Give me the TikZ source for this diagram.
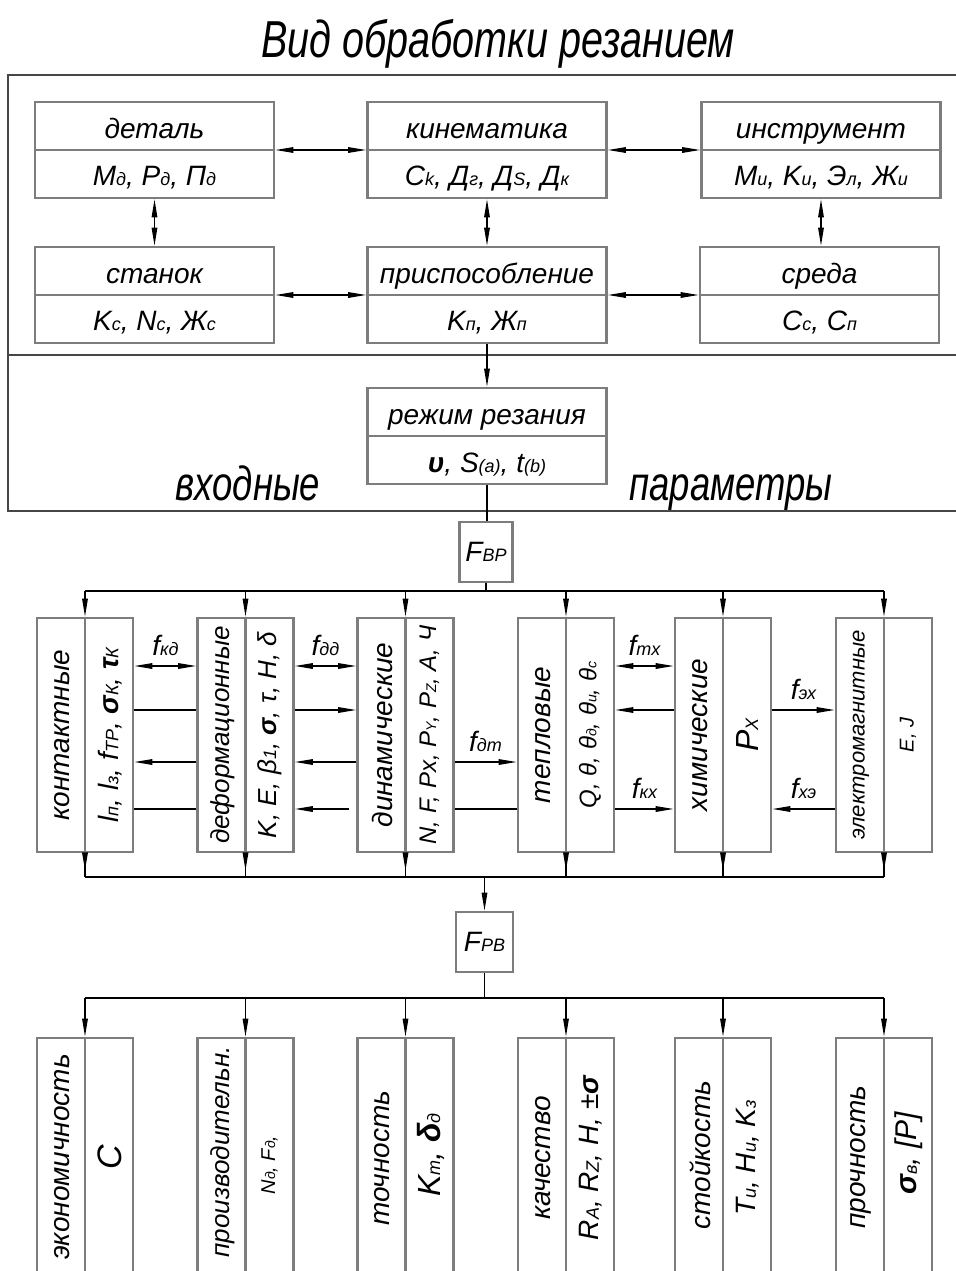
\documentclass[tikz,border=0pt]{standalone}
\usepackage{fontspec}
\setmainfont{Liberation Sans}
\newfontfamily\nar{Liberation Sans}[FakeStretch=0.76]
\usetikzlibrary{arrows.meta,calc}
\definecolor{boxgray}{RGB}{125,125,125}
\definecolor{framegray}{RGB}{70,70,70}
\newcommand\sbs[1]{{\fontsize{9pt}{9pt}\selectfont #1}}
\newcommand\ssbs[1]{{\fontsize{7pt}{7pt}\selectfont #1}}
\newcommand\fsz[1]{\fontsize{#1}{#1}\selectfont}
\begin{document}
\begin{tikzpicture}[x=0.5pt,y=-0.5pt,
  font=\fontsize{14pt}{16pt}\selectfont\itshape,
  tbox/.style={draw=boxgray,line width=1.4pt,minimum width=119.5pt,minimum height=48pt,inner sep=0pt},
  vbox/.style={draw=boxgray,line width=1.4pt,minimum width=48pt,minimum height=117pt,inner sep=0pt},
  fbox/.style={draw=boxgray,line width=1.4pt,minimum height=30pt,inner sep=0pt},
  divl/.style={draw=boxgray,line width=1.4pt},
  tip/.style={-{Triangle[length=9pt,width=2.8pt]}},
  dtip/.style={{Triangle[length=9pt,width=2.8pt]}-{Triangle[length=9pt,width=2.8pt]}},
  conn/.style={line width=0.6pt,black},
  frame/.style={draw=framegray,line width=0.9pt},
  lbl/.style={inner sep=0pt,anchor=base},
  rot/.style={rotate=90,inner sep=0pt},
  big/.style={lbl,font=\nar\fsz{24pt}\itshape},
]
\useasboundingbox (0,0) rectangle (956,1271);

% title and frame
\node[lbl,font=\nar\fsz{26pt}\itshape] (title) at (498,57) {Вид обработки резанием};
\draw[frame] (956,75) -- (8,75) -- (8,511) -- (956,511);
\draw[frame] (8,355) -- (956,355);
\node[big] (vx) at (248,500) {входные};
\node[big] (par) at (731,500) {параметры};

% top boxes
\node[tbox] (det) at (154.5,150) {};
\node[tbox] (kin) at (487,150) {};
\node[tbox] (ins) at (821,150) {};
\node[tbox] (stan) at (154.5,295) {};
\node[tbox] (pri) at (487,295) {};
\node[tbox] (sre) at (819.5,295) {};
\node[tbox] (rez) at (487,436) {};
\foreach \b in {det,kin,ins,stan,pri,sre,rez}{\draw[divl] (\b.west) -- (\b.east);}

\node[lbl] (detA) at (154.5,138) {деталь};
\node[lbl] (detB) at (154.5,185) {M\sbs{д}, P\sbs{д}, П\sbs{д}};
\node[lbl] (kinA) at (487,138) {кинематика};
\node[lbl] (kinB) at (487,185) {C\sbs{k}, Д\sbs{г}, Д\sbs{S}, Д\sbs{к}};
\node[lbl] (insA) at (821,138) {инструмент};
\node[lbl] (insB) at (821,185) {M\sbs{и}, K\sbs{и}, Э\sbs{л}, Ж\sbs{и}};
\node[lbl] (stanA) at (154.5,283) {станок};
\node[lbl] (stanB) at (154.5,330) {K\sbs{с}, N\sbs{с}, Ж\sbs{с}};
\node[lbl] (priA) at (487,283) {приспособление};
\node[lbl] (priB) at (487,330) {K\sbs{п}, Ж\sbs{п}};
\node[lbl] (sreA) at (819.5,283) {среда};
\node[lbl] (sreB) at (819.5,330) {C\sbs{с}, C\sbs{п}};
\node[lbl] (rezA) at (487,424) {режим резания};
\node[lbl] (rezB) at (487,472) {{\bfseries υ}, S\sbs{(a)}, t\sbs{(b)}};

\draw[conn,dtip] (det.east) -- (kin.west);
\draw[conn,dtip] (kin.east) -- (ins.west);
\draw[conn,dtip] (stan.east) -- (pri.west);
\draw[conn,dtip] (pri.east) -- (sre.west);
\draw[conn,dtip] (det.south) -- (stan.north);
\draw[conn,dtip] (kin.south) -- (pri.north);
\draw[conn,dtip] (ins.south) -- (ins.south |- sre.north);
\draw[conn,tip] (pri.south) -- (rez.north);

% F_BP
\node[fbox,minimum width=26.5pt] (fbp) at (486,552) {F\sbs{ВР}};
\draw[conn] (rez.south) -- (rez.south |- fbp.north);

% middle boxes
\node[vbox] (kont) at (85,735) {};
\node[vbox] (def) at (245.5,735) {};
\node[vbox] (din) at (405.5,735) {};
\node[vbox] (tep) at (566,735) {};
\node[vbox] (him) at (723,735) {};
\node[vbox] (elm) at (884,735) {};
\foreach \b in {kont,def,din,tep,him,elm}{\draw[divl] (\b.north) -- (\b.south);}

\node[rot] (kontA) at ($(kont.center)+(-23,0)$) {контактные};
\node[rot] (kontB) at ($(kont.center)+(25,0)$) {l\sbs{п}, l\sbs{з}, f\sbs{ТР}, {\bfseries σ}\sbs{К}, {\bfseries τ}\sbs{К}};
\node[rot,font=\fsz{13pt}\itshape] (defA) at ($(def.center)+(-23,0)$) {деформационные};
\node[rot,font=\fsz{13pt}\itshape] (defB) at ($(def.center)+(24,0)$) {K, E, β\sbs{1}, {\bfseries σ}, τ, H, δ};
\node[rot] (dinA) at ($(din.center)+(-23,0)$) {динамические};
\node[rot,font=\fsz{12pt}\itshape] (dinB) at ($(din.center)+(24,0)$) {N, F, Px, P\ssbs{Y}, P\ssbs{Z}, A, Ч};
\node[rot] (tepA) at ($(tep.center)+(-23,0)$) {тепловые};
\node[rot,font=\fsz{12pt}\itshape] (tepB) at ($(tep.center)+(24,0)$) {Q, θ, θ\ssbs{д}, θ\ssbs{и}, θ\ssbs{с}};
\node[rot] (himA) at ($(him.center)+(-23,0)$) {химические};
\node[rot,font=\fsz{16pt}\itshape] (himB) at ($(him.center)+(24,0)$) {P\sbs{X}};
\node[rot,font=\fsz{11pt}\itshape] (elmA) at ($(elm.center)+(-23,0)$) {электромагнитные};
\node[rot,font=\fsz{10pt}\itshape] (elmB) at ($(elm.center)+(24,0)$) {E, J};

% top bus
\coordinate (b1) at (486,591);
\draw[conn] (fbp.south) -- (b1);
\draw[conn] (kont.north |- b1) -- (elm.north |- b1);
\foreach \b in {kont,def,din,tep,him,elm}{\draw[conn,tip] (\b.north |- b1) -- (\b.north);}

% horizontal links
\coordinate (r1) at (0,666);
\coordinate (r2) at (0,710);
\coordinate (r3) at (0,762);
\coordinate (r4) at (0,809);
\draw[conn,dtip] (kont.east |- r1) -- (def.west |- r1);
\draw[conn] (kont.east |- r2) -- (def.west |- r2);
\draw[conn,tip] (def.west |- r3) -- (kont.east |- r3);
\draw[conn] (kont.east |- r4) -- (def.west |- r4);
\draw[conn,dtip] (def.east |- r1) -- (din.west |- r1);
\draw[conn,tip] (def.east |- r2) -- (din.west |- r2);
\draw[conn,tip] (din.west |- r3) -- (def.east |- r3);
\coordinate (g4) at ($(din.west |- r4)+(-7,0)$);
\draw[conn,tip] (g4) -- (def.east |- r4);
\draw[conn,tip] (din.east |- r3) -- (tep.west |- r3);
\draw[conn] (din.east |- r4) -- (tep.west |- r4);
\draw[conn,dtip] (tep.east |- r1) -- (him.west |- r1);
\draw[conn,tip] (him.west |- r2) -- (tep.east |- r2);
\draw[conn,tip] (tep.east |- r4) -- (him.west |- r4);
\draw[conn,tip] (him.east |- r2) -- (elm.west |- r2);
\draw[conn,tip] (elm.west |- r4) -- (him.east |- r4);

\node[lbl] (fkd) at (165.5,655) {f\sbs{кд}};
\node[lbl] (fdd) at (325.5,655) {f\sbs{дд}};
\node[lbl] (fdt) at (485.5,751) {f\sbs{дт}};
\node[lbl] (ftx) at (644.5,655) {f\sbs{тх}};
\node[lbl] (fkx) at (644.5,798) {f\sbs{кх}};
\node[lbl] (fex) at (803.5,699) {f\sbs{эх}};
\node[lbl] (fxe) at (803.5,798) {f\sbs{хэ}};

% bottom bus of middle boxes
\coordinate (b2) at (486,877);
\foreach \b in {kont,def,din,tep,him,elm}{
  \draw[conn] (\b.south) -- (\b.south |- b2);
  \draw[conn,tip] (\b.south) -- ++(0,17);
}
\draw[conn] (kont.south |- b2) -- (elm.south |- b2);

% F_PB
\node[fbox,minimum width=28.5pt] (fpb) at (484.5,942) {F\sbs{РВ}};
\draw[conn,tip] (fpb.north |- b2) -- (fpb.north);
\coordinate (b3) at (484.5,998);
\draw[conn] (fpb.south) -- (b3);

% output boxes
\node[vbox] (eko) at (85,1155) {};
\node[vbox] (prz) at (245.5,1155) {};
\node[vbox] (toc) at (405.5,1155) {};
\node[vbox] (kac) at (566,1155) {};
\node[vbox] (sto) at (723,1155) {};
\node[vbox] (prc) at (884,1155) {};
\foreach \b in {eko,prz,toc,kac,sto,prc}{\draw[divl] (\b.north) -- (\b.south);}
\draw[conn] (eko.north |- b3) -- (prc.north |- b3);
\foreach \b in {eko,prz,toc,kac,sto,prc}{\draw[conn,tip] (\b.north |- b3) -- (\b.north);}

\node[rot] (ekoA) at ($(eko.center)+(-23,2)$) {экономичность};
\node[rot,font=\fsz{17pt}\itshape] (ekoB) at ($(eko.center)+(25,2)$) {C};
\node[rot,font=\fsz{13pt}\itshape] (przA) at ($(prz.center)+(-23,-3)$) {производительн.};
\node[rot,font=\fsz{10pt}\itshape] (przB) at ($(prz.center)+(24,10)$) {N\ssbs{д}, F\ssbs{д},};
\node[rot] (tocA) at ($(toc.center)+(-23,3)$) {точность};
\node[rot,font=\fsz{16pt}\itshape] (tocB) at ($(toc.center)+(25,0)$) {K\sbs{т}, {\bfseries δ}\sbs{д}};
\node[rot] (kacA) at ($(kac.center)+(-23,3)$) {качество};
\node[rot] (kacB) at ($(kac.center)+(25,3)$) {R\sbs{A}, R\sbs{Z}, H, ±{\bfseries σ}};
\node[rot] (stoA) at ($(sto.center)+(-23,0)$) {стойкость};
\node[rot] (stoB) at ($(sto.center)+(25,3)$) {T\sbs{и}, H\sbs{и}, K\sbs{з}};
\node[rot] (prcA) at ($(prc.center)+(-23,2)$) {прочность};
\node[rot,font=\fsz{15pt}\itshape] (prcB) at ($(prc.center)+(25,-2)$) {{\bfseries σ}\sbs{в}, [P]};
\end{tikzpicture}
\end{document}
